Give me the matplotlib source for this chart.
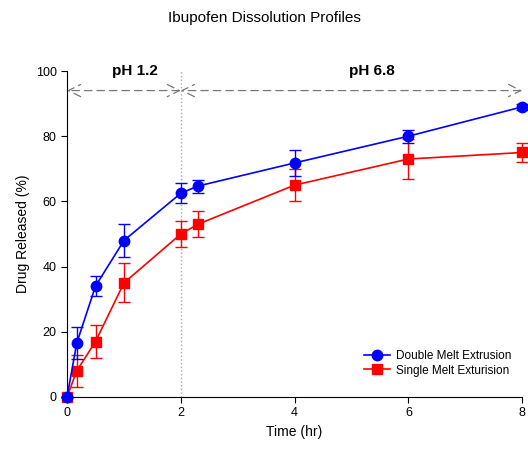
import matplotlib
matplotlib.use("Agg")
import matplotlib.pyplot as plt
from matplotlib.lines import Line2D

time = [0, 0.17, 0.5, 1, 2, 2.3, 4, 6, 8]
double_vals = [0, 16.5, 34, 48, 62.5, 64.7, 71.8, 80, 89]
double_err = [0, 5, 3, 5, 3, 2, 4, 2, 1]
single_vals = [0, 8, 17, 35, 50, 53, 65, 73, 75]
single_err = [0, 5, 5, 6, 4, 4, 5, 6, 3]
labels = ["Double Melt Extrusion", "Single Melt Exturision"]

plt.rcParams['font.family'] = ['Liberation Sans', 'DejaVu Sans']
fig = plt.figure(figsize=(5.28, 4.54), dpi=100)
ax = fig.add_axes([0.127, 0.1256, 0.862, 0.718])

ax.errorbar(time, double_vals, yerr=double_err, color='#0000ff', marker='o', ms=7.5,
            lw=1.2, capsize=4, elinewidth=1, clip_on=False, zorder=4)
ax.errorbar(time, single_vals, yerr=single_err, color='#ff0000', marker='s', ms=7,
            lw=1.2, capsize=4, elinewidth=1, clip_on=False, zorder=3)

ax.set_xlim(0, 8)
ax.set_ylim(0, 100)
ax.set_xticks([0, 2, 4, 6, 8])
ax.set_yticks([0, 20, 40, 60, 80, 100])
for s in ['top', 'right']:
    ax.spines[s].set_visible(False)
ax.tick_params(labelsize=9, direction='out', length=4)
ax.set_xlabel("Time (hr)", fontsize=10)
ax.set_ylabel("Drug Released (%)", fontsize=10)
fig.suptitle("Ibupofen Dissolution Profiles", fontsize=11, y=0.975)

ax.axvline(2, color='#aaaaaa', ls=':', lw=1, zorder=1)
arrow_kw = dict(arrowstyle='<->', color='#777777', ls=(0, (6, 4)), lw=0.9,
                mutation_scale=22, shrinkA=0, shrinkB=0)
ax.annotate('', xy=(0, 94), xytext=(2, 94), arrowprops=arrow_kw, annotation_clip=False)
ax.annotate('', xy=(2, 94), xytext=(8, 94), arrowprops=arrow_kw, annotation_clip=False)
ax.text(1.2, 100, "pH 1.2", ha='center', va='center', fontsize=11, fontweight='bold')
ax.text(5.35, 100, "pH 6.8", ha='center', va='center', fontsize=11, fontweight='bold')

handles = [Line2D([], [], color='#0000ff', marker='o', ms=7.5, lw=1.2),
           Line2D([], [], color='#ff0000', marker='s', ms=7, lw=1.2)]
ax.legend(handles, labels, loc='lower right', bbox_to_anchor=(1.0, 0.03), frameon=False,
          fontsize=8.5, handlelength=2.2, labelspacing=0.2, handletextpad=0.5)

fig.savefig("out.png", dpi=100)
